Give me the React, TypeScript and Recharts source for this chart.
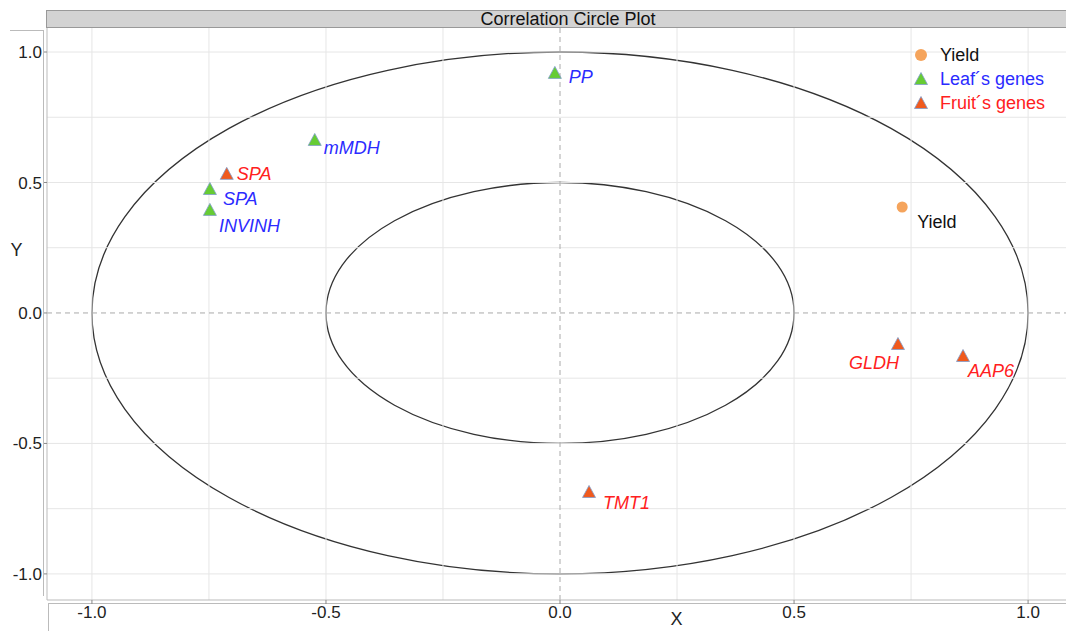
import {
  ScatterChart,
  Scatter,
  XAxis,
  YAxis,
  ReferenceLine,
  ReferenceArea,
  Legend,
} from "recharts";

// correlation coordinates on the first two components
const yieldPoints = [{ name: "Yield", x: 0.731, y: 0.406 }];
const leafGenes = [
  { name: "PP", x: -0.011, y: 0.92 },
  { name: "mMDH", x: -0.524, y: 0.663 },
  { name: "SPA", x: -0.748, y: 0.475 },
  { name: "INVINH", x: -0.748, y: 0.395 },
];
const fruitGenes = [
  { name: "SPA", x: -0.712, y: 0.533 },
  { name: "GLDH", x: 0.722, y: -0.119 },
  { name: "AAP6", x: 0.861, y: -0.165 },
  { name: "TMT1", x: 0.062, y: -0.686 },
];

const axisTicks = [-1, -0.5, 0, 0.5, 1];
const gridSteps = [-1, -0.75, -0.5, -0.25, 0.25, 0.5, 0.75, 1];
const circleRadii = [1, 0.5];

const legendItems = [
  { label: "Yield", marker: "circle", fill: "#f5a45c", color: "#111" },
  { label: "Leaf´s genes", marker: "triangle", fill: "#66cc33", color: "#2b2bff" },
  { label: "Fruit´s genes", marker: "triangle", fill: "#f05a1e", color: "#ff2020" },
];

// where each label sits relative to its marker (dx, dy, anchor)
const leafLabelPos: Record<string, [number, number, string]> = {
  PP: [14, 4, "start"],
  mMDH: [9, 8, "start"],
  SPA: [13, 10, "start"],
  INVINH: [9, 16, "start"],
};
const fruitLabelPos: Record<string, [number, number, string]> = {
  SPA: [10, 0, "start"],
  GLDH: [1, 19, "end"],
  AAP6: [5, 15, "start"],
  TMT1: [14, 11, "start"],
};

const FONT = "'Liberation Sans', Arial, Helvetica, sans-serif";

function Triangle({ cx, cy, fill }: { cx: number; cy: number; fill: string }) {
  return (
    <polygon
      points={`${cx},${cy - 6.5} ${cx - 6.5},${cy + 5.5} ${cx + 6.5},${cy + 5.5}`}
      fill={fill}
      stroke="#7f9ccc"
      strokeWidth={0.8}
    />
  );
}

function geneShape(fill: string, color: string, pos: Record<string, [number, number, string]>) {
  return (props: any) => {
    const { cx, cy, payload } = props;
    const [dx, dy, anchor] = pos[payload.name] || [10, 10, "start"];
    return (
      <g>
        <Triangle cx={cx} cy={cy} fill={fill} />
        <text
          x={cx + dx}
          y={cy + dy}
          dy="0.35em"
          textAnchor={anchor as any}
          fill={color}
          fontStyle="italic"
          fontSize={18}
          fontFamily={FONT}
        >
          {payload.name}
        </text>
      </g>
    );
  };
}

const yieldShape = (props: any) => {
  const { cx, cy, payload } = props;
  return (
    <g>
      <circle cx={cx} cy={cy} r={5.5} fill="#f5a45c" />
      <text x={cx + 15} y={cy + 15} dy="0.35em" fill="#111" fontSize={18} fontFamily={FONT}>
        {payload.name}
      </text>
    </g>
  );
};

const ellipseShape = (props: any) => {
  const { x, y, width, height } = props;
  return (
    <ellipse
      cx={x + width / 2}
      cy={y + height / 2}
      rx={width / 2}
      ry={height / 2}
      fill="none"
      stroke="#333"
      strokeWidth={1.3}
    />
  );
};

const renderLegend = () => (
  <svg width={160} height={75} style={{ overflow: "visible" }}>
    {legendItems.map((item, i) => {
      const cy = 11 + i * 24;
      return (
        <g key={item.label}>
          {item.marker === "circle" ? (
            <circle cx={9} cy={cy} r={6} fill={item.fill} />
          ) : (
            <Triangle cx={9} cy={cy} fill={item.fill} />
          )}
          <text x={28} y={cy} dy="0.35em" fill={item.color} fontSize={18} fontFamily={FONT}>
            {item.label}
          </text>
        </g>
      );
    })}
  </svg>
);

const tickStyle = { fill: "#222", fontSize: 17, fontFamily: FONT };
const fmt = (v: number) => v.toFixed(1);

export default function App() {
  return (
    <div
      style={{
        position: "absolute",
        left: 0,
        top: 0,
        width: 1066,
        height: 631,
        overflow: "hidden",
        background: "#fff",
        fontFamily: FONT,
      }}
    >
      {/* title strip */}
      <div
        style={{
          position: "absolute",
          left: 46,
          top: 10,
          width: 1042,
          height: 16,
          background: "#d3d3d3",
          border: "1px solid #999",
          fontSize: 18,
          lineHeight: "16px",
          textAlign: "center",
          color: "#111",
        }}
      >
        Correlation Circle Plot
      </div>
      {/* panel frames */}
      <div style={{ position: "absolute", left: 10, top: 30, width: 33, height: 565, borderTop: "1px solid #bbb", borderRight: "1px solid #bbb" }} />
      <div style={{ position: "absolute", left: 48, top: 603, width: 1030, height: 40, borderTop: "1px solid #bbb", borderLeft: "1px solid #bbb" }} />

      <ScatterChart
        width={1066}
        height={631}
        margin={{ top: 28, right: 0, left: 0, bottom: 0 }}
        style={{ position: "absolute", left: 0, top: 0 }}
      >
        <XAxis
          type="number"
          dataKey="x"
          domain={[-1.096, 1.081]}
          allowDataOverflow
          ticks={axisTicks}
          tickFormatter={fmt}
          height={31}
          tickSize={4}
          tick={tickStyle}
          axisLine={{ stroke: "#bbb" }}
          tickLine={{ stroke: "#888" }}
          label={{ value: "X", position: "center", dx: 120, dy: 3, fill: "#222", fontSize: 18, fontFamily: FONT }}
        />
        <YAxis
          type="number"
          dataKey="y"
          domain={[-1.1, 1.092]}
          allowDataOverflow
          ticks={axisTicks}
          tickFormatter={fmt}
          width={47}
          tickSize={3}
          tick={tickStyle}
          axisLine={{ stroke: "#bbb" }}
          tickLine={{ stroke: "#888" }}
          label={{ value: "Y", position: "center", angle: 0, dx: -7, dy: -64, fill: "#222", fontSize: 18, fontFamily: FONT }}
        />

        {gridSteps.map((v) => (
          <ReferenceLine key={`gx${v}`} x={v} stroke="#e6e6e6" strokeWidth={1} />
        ))}
        {gridSteps.map((v) => (
          <ReferenceLine key={`gy${v}`} y={v} stroke="#e6e6e6" strokeWidth={1} />
        ))}
        <ReferenceLine x={0} stroke="#aaa" strokeDasharray="5 4" />
        <ReferenceLine y={0} stroke="#aaa" strokeDasharray="5 4" />

        {circleRadii.map((r) => (
          <ReferenceArea key={`c${r}`} x1={-r} x2={r} y1={-r} y2={r} shape={ellipseShape} />
        ))}

        <Legend
          layout="horizontal"
          verticalAlign="middle"
          align="center"
          wrapperStyle={{ top: 44, left: 912, width: 160, height: 75 }}
          content={renderLegend}
        />

        <Scatter name="Yield" data={yieldPoints} shape={yieldShape} isAnimationActive={false} />
        <Scatter
          name="Leaf´s genes"
          data={leafGenes}
          shape={geneShape("#66cc33", "#2b2bff", leafLabelPos)}
          isAnimationActive={false}
        />
        <Scatter
          name="Fruit´s genes"
          data={fruitGenes}
          shape={geneShape("#f05a1e", "#ff2020", fruitLabelPos)}
          isAnimationActive={false}
        />
      </ScatterChart>
    </div>
  );
}
